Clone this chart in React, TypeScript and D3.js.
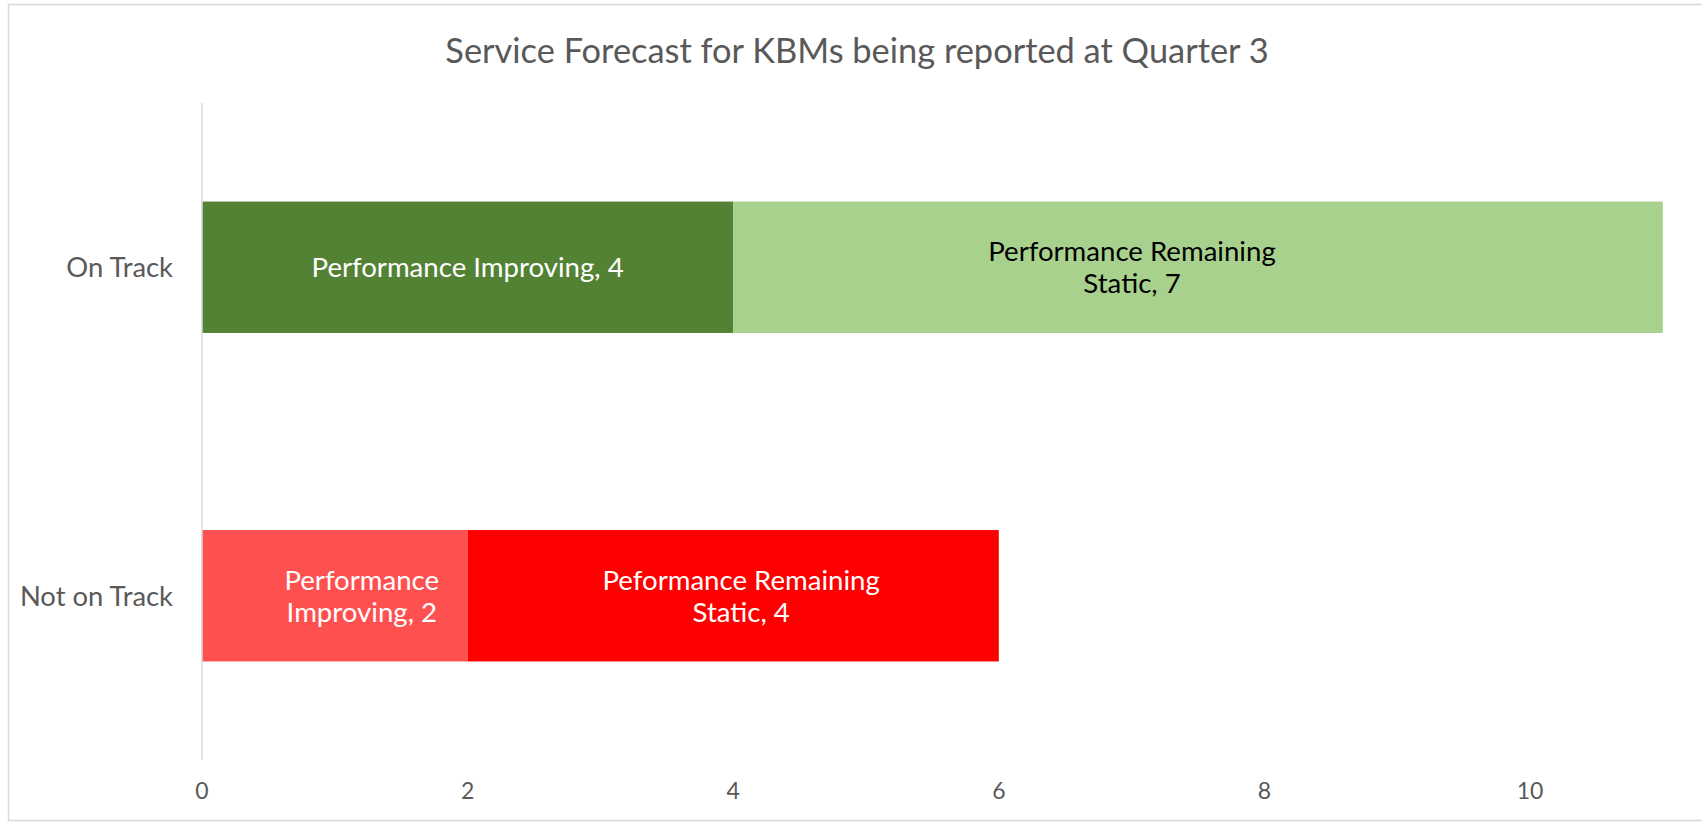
import { useEffect, useRef } from 'react';
import * as d3 from 'd3';

const title = 'Service Forecast for KBMs being reported at Quarter 3';
const categories = ['On Track', 'Not on Track'];
const improving = [4, 2];
const remaining = [7, 4];
const improvingLabels = [['Performance Improving, 4'], ['Performance', 'Improving, 2']];
const remainingLabels = [['Performance Remaining', 'Static, 7'], ['Peformance Remaining', 'Static, 4']];
const xTicks = [0, 2, 4, 6, 8, 10];

const W = 1702;
const H = 822;
const FONT = 'Lato, "Open Sans", sans-serif';

// colours per segment: [improving, remaining] for each category
const fills = [['#548235', '#A9D18E'], ['#FF5050', '#FF0000']];
const textFills = [['#ffffff', '#000000'], ['#ffffff', '#ffffff']];
// Excel placed a few labels off the segment centre
const labelNudge = [[0, -66], [27, 8]];

export default function App() {
  const ref = useRef<SVGSVGElement>(null);

  useEffect(() => {
    const svg = d3.select(ref.current);
    svg.selectAll('*').remove();

    // axis runs to 12, the chart is wider than the window
    const x = d3.scaleLinear().domain([0, 12]).range([202, 1795.6]);
    const y = d3.scaleBand<string>().domain(categories).range([103, 760])
      .paddingInner(0.6).paddingOuter(0.3);

    svg.append('rect')
      .attr('x', 8.5).attr('y', 4.5).attr('width', 1800).attr('height', 816)
      .attr('fill', '#fff').attr('stroke', '#D9D9D9').attr('stroke-width', 1.5);

    svg.append('text')
      .attr('x', 857).attr('y', 63)
      .attr('text-anchor', 'middle')
      .attr('font-family', FONT).attr('font-size', 34.4)
      .attr('fill', '#595959')
      .text(title);

    // stacked segments
    categories.forEach((c, i) => {
      const segs = [
        { x0: 0, x1: improving[i], lines: improvingLabels[i] },
        { x0: improving[i], x1: improving[i] + remaining[i], lines: remainingLabels[i] },
      ];
      const y0 = y(c)!;
      const cy = y0 + y.bandwidth() / 2;
      segs.forEach((s, j) => {
        svg.append('rect')
          .attr('x', x(s.x0)).attr('y', y0)
          .attr('width', x(s.x1) - x(s.x0)).attr('height', y.bandwidth())
          .attr('fill', fills[i][j]);
        const cx = (x(s.x0) + x(s.x1)) / 2 + labelNudge[i][j];
        const lh = 32;
        const first = cy + 10 - ((s.lines.length - 1) * lh) / 2;
        const t = svg.append('text')
          .attr('text-anchor', 'middle')
          .attr('font-family', FONT).attr('font-size', 27.6)
          .attr('fill', textFills[i][j]);
        s.lines.forEach((ln, k) => {
          t.append('tspan').attr('x', cx).attr('y', first + k * lh).text(ln);
        });
      });

      svg.append('text')
        .attr('x', 173).attr('y', cy + 10)
        .attr('text-anchor', 'end')
        .attr('font-family', FONT).attr('font-size', 27.4)
        .attr('fill', '#595959')
        .text(c);
    });

    // vertical category axis line
    svg.append('line')
      .attr('x1', x(0)).attr('x2', x(0)).attr('y1', 103).attr('y2', 760)
      .attr('stroke', '#D9D9D9').attr('stroke-width', 1.5);

    svg.selectAll('text.tick')
      .data(xTicks)
      .enter()
      .append('text')
      .attr('class', 'tick')
      .attr('x', (d) => x(d))
      .attr('y', 799)
      .attr('text-anchor', 'middle')
      .attr('font-family', FONT).attr('font-size', 23)
      .attr('fill', '#595959')
      .text((d) => String(d));
  }, []);

  return (
    <svg
      ref={ref}
      width={W}
      height={H}
      style={{ position: 'absolute', left: 0, top: 0, background: '#fff' }}
    />
  );
}
